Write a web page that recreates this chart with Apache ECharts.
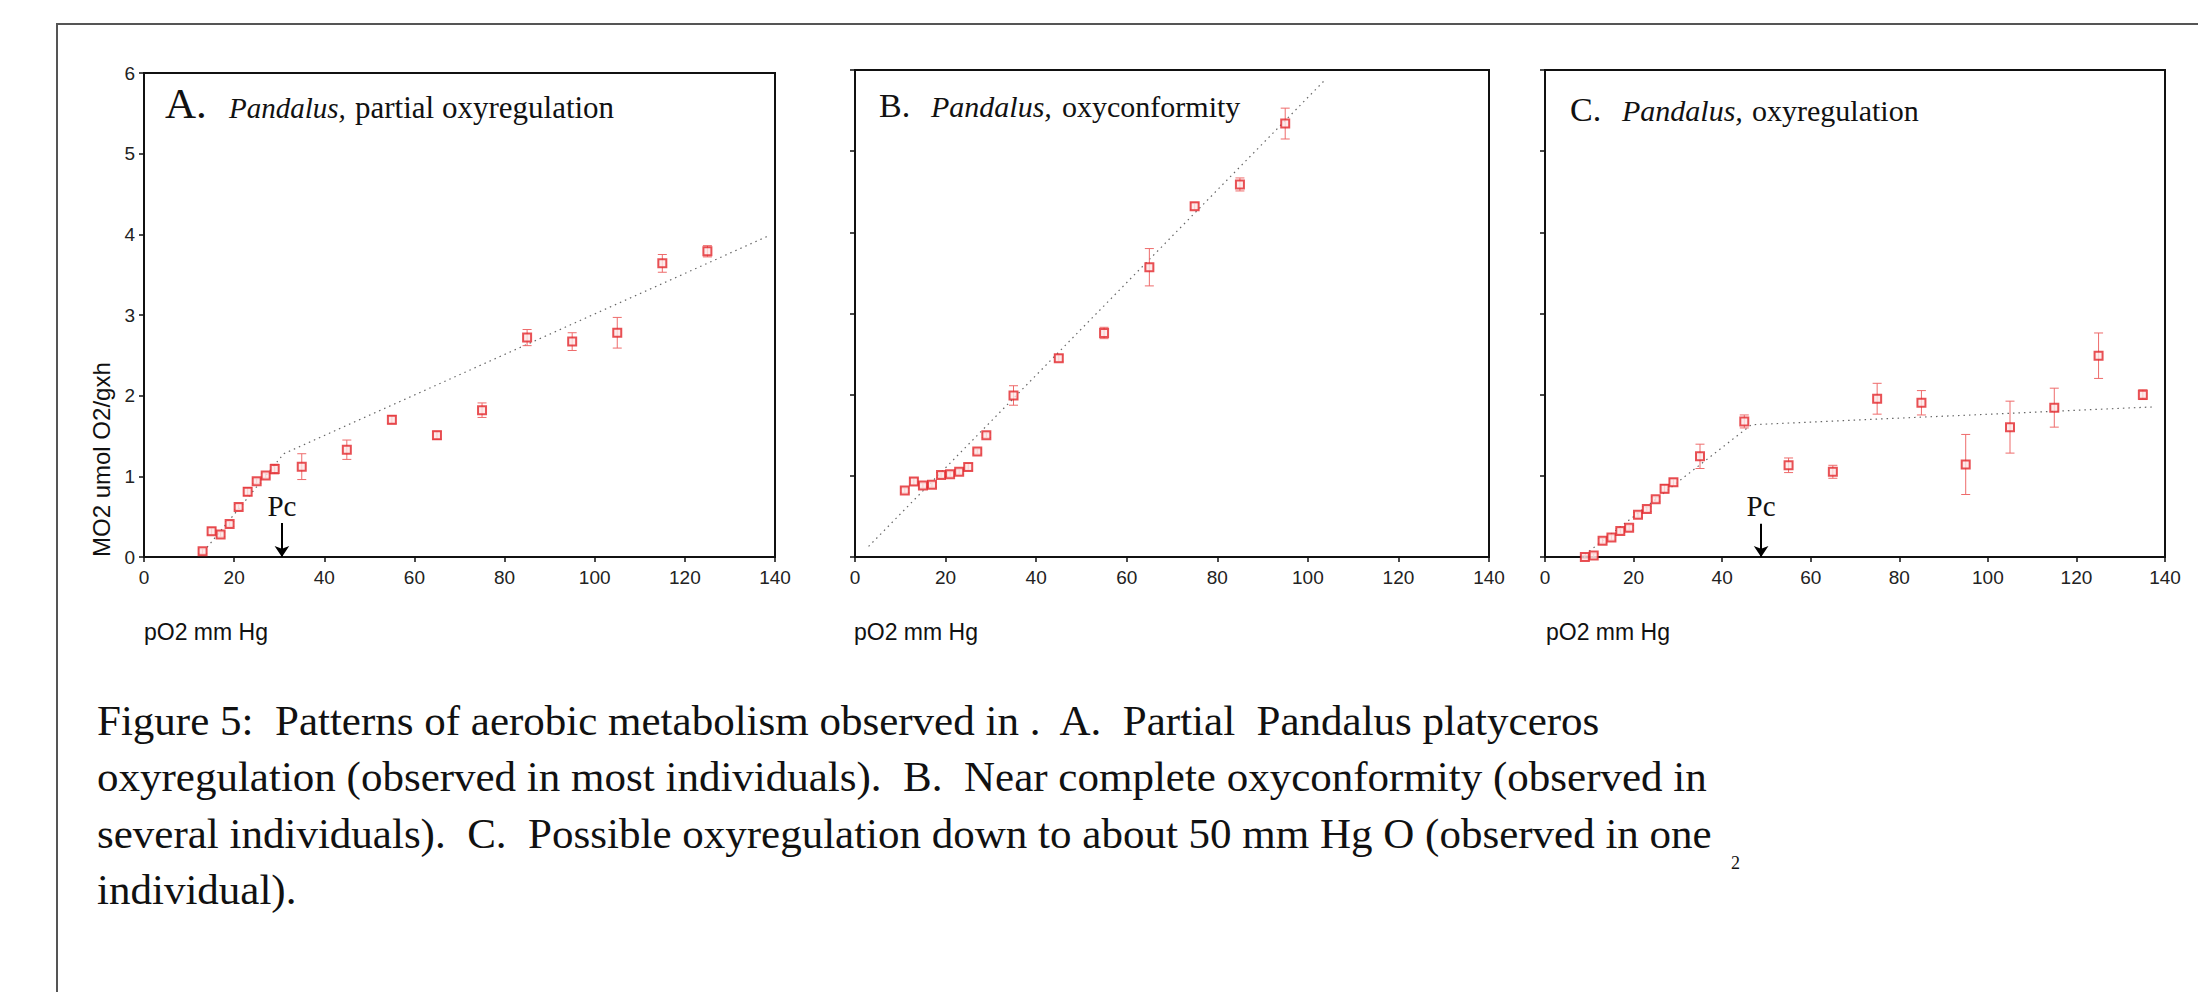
<!DOCTYPE html>
<html>
<head>
<meta charset="utf-8">
<title>Figure 5 - Pandalus aerobic metabolism</title>
<script src="https://cdn.jsdelivr.net/npm/echarts/dist/echarts.min.js"></script>
<style>
  body { margin: 0; background: #fff; }
  #page { position: relative; width: 2198px; height: 992px; overflow: hidden; background: #fff; }
  #chart { position: absolute; left: 0; top: 0; width: 2198px; height: 992px; }
  #frame { position: absolute; left: 56px; top: 23px; right: -10px; bottom: -10px;
           border-top: 2px solid #555; border-left: 2px solid #555; }
  .serif { position: absolute; white-space: pre; line-height: 1; color: #111;
           font-family: "Liberation Serif", "Times New Roman", serif; }
</style>
</head>
<body>
<div id="page">
  <div id="frame"></div>
  <div id="chart"></div>
</div>
<script>
// axis ranges (same for the three panels)
var xRange = [0, 140], xStep = 20
var yRange = [0, 6], yStep = 1

// A. partial oxyregulation
var aX = [13, 15, 17, 19, 21, 23, 25, 27, 29, 35, 45, 55, 65, 75, 85, 95, 105, 115, 125]
var aY = [0.07, 0.32, 0.28, 0.41, 0.62, 0.81, 0.94, 1.01, 1.09, 1.12, 1.33, 1.70, 1.51, 1.82, 2.72, 2.67, 2.78, 3.64, 3.79]
var aErr = [0.03, 0.04, 0.03, 0.03, 0.03, 0.05, 0.03, 0.03, 0.06, 0.16, 0.12, 0.05, 0.05, 0.09, 0.10, 0.11, 0.19, 0.11, 0.07]
var aFitX = [14, 31, 138.5]
var aFitY = [0.12, 1.28, 3.98]
var aPc = [30.6, 0.42]

// B. oxyconformity
var bX = [11, 13, 15, 17, 19, 21, 23, 25, 27, 29, 35, 45, 55, 65, 75, 85, 95]
var bY = [0.82, 0.93, 0.88, 0.89, 1.01, 1.02, 1.05, 1.11, 1.30, 1.50, 1.99, 2.45, 2.76, 3.57, 4.32, 4.59, 5.34]
var bErr = [0.03, 0.04, 0.03, 0.03, 0.03, 0.03, 0.03, 0.04, 0.03, 0.03, 0.12, 0.04, 0.07, 0.23, 0.04, 0.08, 0.19]
var bFitX = [3, 104]
var bFitY = [0.13, 5.89]

// C. oxyregulation
var cX = [9, 11, 13, 15, 17, 19, 21, 23, 25, 27, 29, 35, 45, 55, 65, 75, 85, 95, 105, 115, 125, 135]
var cY = [0.0, 0.02, 0.20, 0.24, 0.32, 0.36, 0.52, 0.59, 0.71, 0.84, 0.92, 1.24, 1.67, 1.13, 1.05, 1.95, 1.90, 1.14, 1.60, 1.84, 2.48, 2.00]
var cErr = [0.02, 0.02, 0.03, 0.03, 0.03, 0.03, 0.03, 0.03, 0.03, 0.05, 0.04, 0.15, 0.08, 0.09, 0.08, 0.19, 0.15, 0.37, 0.32, 0.24, 0.28, 0.06]
var cFitX = [9, 46.6, 137.7]
var cFitY = [0.03, 1.63, 1.85]
var cPc = [48.8, 0.41]

var xName = 'pO2 mm Hg'
var yName = 'MO2 umol O2/gxh'
var captionLines = [
  'Figure 5:  Patterns of aerobic metabolism observed in .  A.  Partial  Pandalus platyceros',
  'oxyregulation (observed in most individuals).  B.  Near complete oxyconformity (observed in',
  'several individuals).  C.  Possible oxyregulation down to about 50 mm Hg O (observed in one',
  'individual).'
]

var RED = '#e2262b'
var ERR_RED = '#ee6b6b'
var AXIS = '#111'
var SANS = '"Liberation Sans", Arial, sans-serif'
var SERIF = '"Liberation Serif", "Times New Roman", serif'

var grids = [
  { left: 144, top: 73, width: 631, height: 484 },
  { left: 855, top: 70, width: 634, height: 487 },
  { left: 1545, top: 70, width: 620, height: 487 }
]

function pairs(xs, ys) {
  return xs.map(function (x, i) { return [x, ys[i]] })
}
function triples(xs, ys, es) {
  return xs.map(function (x, i) { return [x, ys[i], es[i]] })
}

function renderErr(params, api) {
  var x = api.value(0), y = api.value(1), e = api.value(2)
  var hi = api.coord([x, y + e])
  var lo = api.coord([x, y - e])
  var w = 4.5
  var st = { stroke: ERR_RED, lineWidth: 1 }
  return {
    type: 'group',
    children: [
      { type: 'line', shape: { x1: hi[0], y1: hi[1], x2: lo[0], y2: lo[1] }, style: st },
      { type: 'line', shape: { x1: hi[0] - w, y1: hi[1], x2: hi[0] + w, y2: hi[1] }, style: st },
      { type: 'line', shape: { x1: lo[0] - w, y1: lo[1], x2: lo[0] + w, y2: lo[1] }, style: st }
    ]
  }
}

function pcMark(pc) {
  return {
    silent: true,
    symbol: ['none', 'arrow'],
    symbolSize: 11,
    lineStyle: { color: '#000', width: 2, type: 'solid' },
    label: { show: true, position: 'start', formatter: 'Pc', fontFamily: SERIF, fontSize: 29, color: '#111', distance: 3 },
    data: [[{ coord: [pc[0], pc[1]] }, { coord: [pc[0], 0] }]]
  }
}

function panelSeries(k, xs, ys, es, fx, fy, pc) {
  var fit = {
    type: 'line', xAxisIndex: k, yAxisIndex: k,
    data: pairs(fx, fy), symbol: 'none', silent: true, z: 1,
    lineStyle: { color: '#666', width: 1.2, type: [1.5, 4] }
  }
  if (pc) fit.markLine = pcMark(pc)
  return [
    fit,
    {
      type: 'custom', xAxisIndex: k, yAxisIndex: k, z: 2, silent: true,
      renderItem: renderErr, encode: { x: 0, y: 1 },
      data: triples(xs, ys, es)
    },
    {
      type: 'scatter', xAxisIndex: k, yAxisIndex: k, z: 3,
      symbol: 'rect', symbolSize: 8,
      itemStyle: { color: '#fde6e6', borderColor: RED, borderWidth: 2 },
      data: pairs(xs, ys)
    }
  ]
}

function xAxisFor(k) {
  return {
    type: 'value', gridIndex: k, min: xRange[0], max: xRange[1], interval: xStep,
    axisLine: { show: true, onZero: false, lineStyle: { color: AXIS, width: 2 } },
    axisTick: { show: true, inside: false, length: 5, lineStyle: { color: AXIS, width: 1.5 } },
    axisLabel: { show: true, margin: 11, fontFamily: SANS, fontSize: 19, color: '#222', showMinLabel: true, showMaxLabel: true },
    splitLine: { show: false }
  }
}
function yAxisFor(k) {
  return {
    type: 'value', gridIndex: k, min: yRange[0], max: yRange[1], interval: yStep,
    axisLine: { show: true, onZero: false, lineStyle: { color: AXIS, width: 2 } },
    axisTick: { show: true, inside: false, length: 5, lineStyle: { color: AXIS, width: 1.5 } },
    axisLabel: { show: k === 0, margin: 9, fontFamily: SANS, fontSize: 19, color: '#222', showMinLabel: true, showMaxLabel: true },
    splitLine: { show: false }
  }
}

var chart = echarts.init(document.getElementById('chart'), null, { renderer: 'svg' })
chart.setOption({
  backgroundColor: 'transparent',
  animation: false,
  grid: grids.map(function (g) {
    return {
      left: g.left, top: g.top, width: g.width, height: g.height,
      show: true, borderColor: AXIS, borderWidth: 2, backgroundColor: 'transparent',
      containLabel: false, outerBoundsMode: 'none'
    }
  }),
  xAxis: [xAxisFor(0), xAxisFor(1), xAxisFor(2)],
  yAxis: [yAxisFor(0), yAxisFor(1), yAxisFor(2)],
  graphic: [
    { type: 'text', left: 144, top: 620, style: { text: xName, font: '23px ' + SANS, fill: '#111' } },
    { type: 'text', left: 854, top: 620, style: { text: xName, font: '23px ' + SANS, fill: '#111' } },
    { type: 'text', left: 1546, top: 620, style: { text: xName, font: '23px ' + SANS, fill: '#111' } },
    {
      type: 'text', x: 101, y: 557, rotation: Math.PI / 2,
      style: { text: yName, font: '24px ' + SANS, fill: '#111', textAlign: 'left', textVerticalAlign: 'middle', align: 'left', verticalAlign: 'middle' }
    }
  ],
  series: [].concat(
    panelSeries(0, aX, aY, aErr, aFitX, aFitY, aPc),
    panelSeries(1, bX, bY, bErr, bFitX, bFitY, null),
    panelSeries(2, cX, cY, cErr, cFitX, cFitY, cPc)
  )
})

// serif texts (panel titles, caption) placed by baseline
var page = document.getElementById('page')
function putText(txt, x, base, size, italic) {
  var d = document.createElement('div')
  d.className = 'serif'
  d.textContent = txt
  d.style.left = x + 'px'
  d.style.top = (base - size * 0.8375) + 'px'
  d.style.fontSize = size + 'px'
  if (italic) d.style.fontStyle = 'italic'
  page.appendChild(d)
}

putText('A.', 165, 118, 43)
putText('Pandalus,', 229, 118, 29, true)
putText('partial oxyregulation', 355, 118, 31)

putText('B.', 879, 117, 34)
putText('Pandalus,', 931, 117, 30, true)
putText('oxyconformity', 1062, 117, 30)

putText('C.', 1570, 121, 34)
putText('Pandalus,', 1622, 121, 30, true)
putText('oxyregulation', 1752, 121, 30)

var captionBase = [735, 791.5, 848, 904.5]
captionLines.forEach(function (line, i) {
  putText(line, 97, captionBase[i], 43)
})
putText('2', 1731, 869, 18)
</script>
</body>
</html>
